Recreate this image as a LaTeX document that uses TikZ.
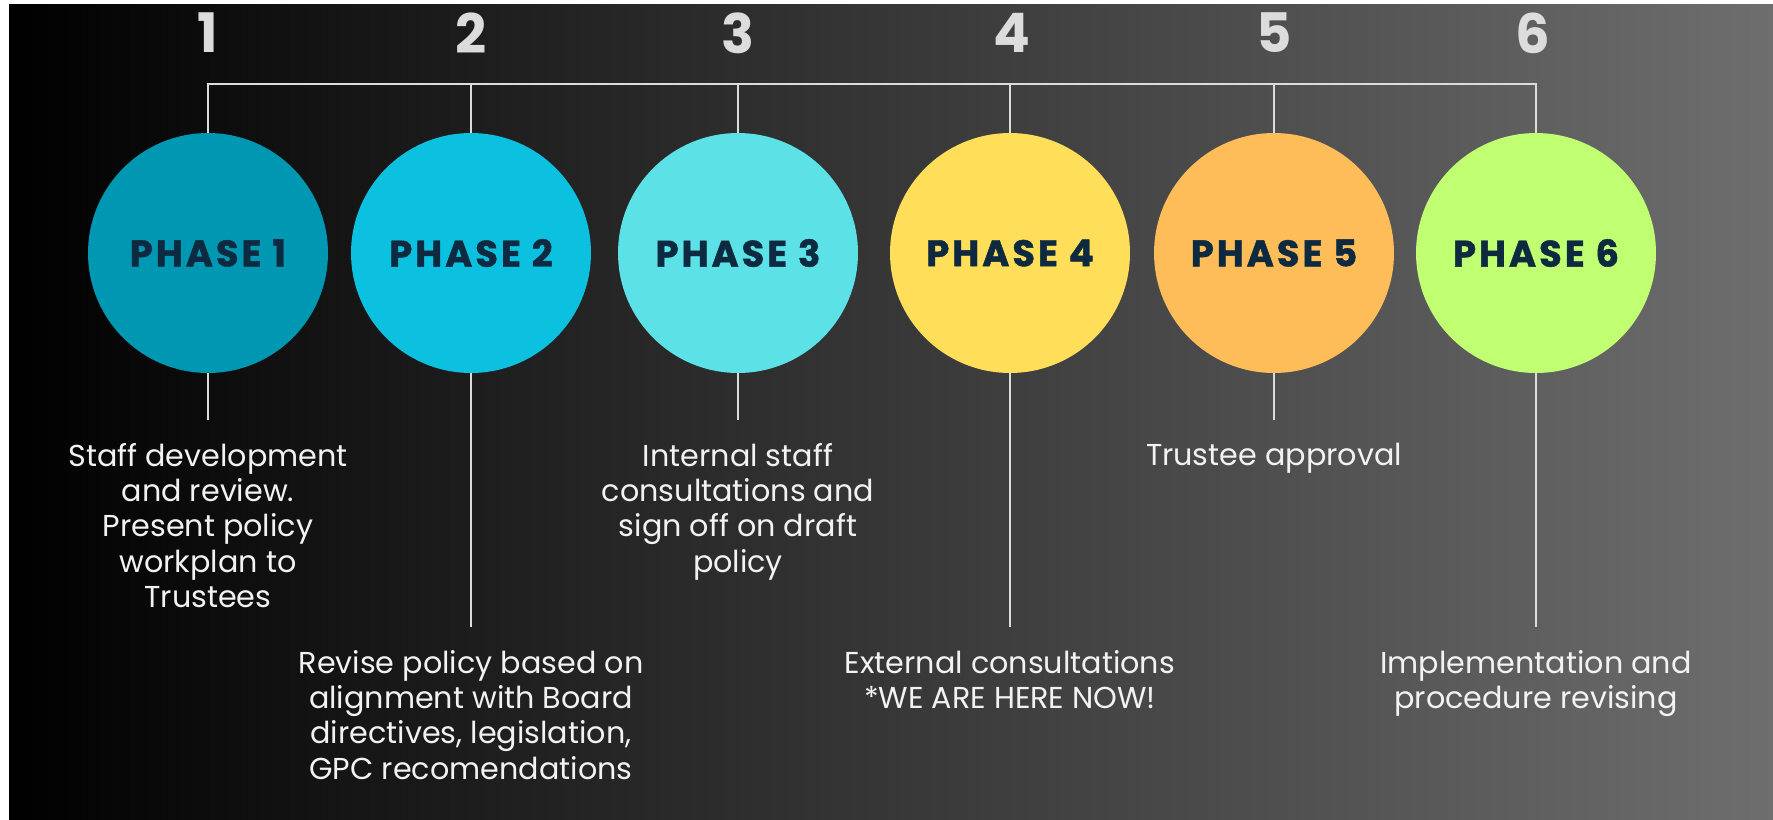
\documentclass[tikz,border=0pt]{standalone}
\usepackage{fontspec}
\setmainfont{Poppins}

\definecolor{phaseA}{HTML}{0097B2}
\definecolor{phaseB}{HTML}{0CC0DF}
\definecolor{phaseC}{HTML}{5CE1E6}
\definecolor{phaseD}{HTML}{FFDE59}
\definecolor{phaseE}{HTML}{FFBD59}
\definecolor{phaseF}{HTML}{C1FF72}
\definecolor{phasetext}{HTML}{0E2A40}
\definecolor{linegray}{HTML}{DCDCDC}
\definecolor{notewhite}{HTML}{F2F2F2}
\definecolor{bggray}{HTML}{6E6E6E}

\begin{document}
\begin{tikzpicture}[x=0.02cm,y=-0.02cm]
\tikzset{
  PhaseStyle/.style = {circle, minimum size=4.8cm, inner sep=0pt,
                       font=\fontsize{21}{23}\selectfont\bfseries\addfontfeatures{LetterSpace=8,FakeBold=1.2},
                       text=phasetext},
  NumStyle/.style = {font=\fontsize{31}{31}\selectfont\bfseries,
                     text=linegray},
  NoteStyle/.style = {align=center, anchor=north, inner xsep=0pt,
                      inner ysep=13pt,
                      font=\fontsize{17.2}{20.1}\selectfont, text=notewhite},
  LinkStyle/.style = {draw=linegray, line width=1.5pt},
}
\useasboundingbox (0,0) rectangle (1773,819);

% backdrop
\fill[white] (0,0) rectangle (1773,819);
\shade[left color=black, right color=bggray] (9,4) rectangle (1773,819);

% the six phases
\node[PhaseStyle, fill=phaseA] (ph1) at (208,253) {PHASE 1};
\node[PhaseStyle, fill=phaseB] (ph2) at (471,253) {PHASE 2};
\node[PhaseStyle, fill=phaseC] (ph3) at (738,253) {PHASE 3};
\node[PhaseStyle, fill=phaseD] (ph4) at (1010,253) {PHASE 4};
\node[PhaseStyle, fill=phaseE] (ph5) at (1274,253) {PHASE 5};
\node[PhaseStyle, fill=phaseF] (ph6) at (1536,253) {PHASE 6};

% step numbers
\node[NumStyle] (num1) at (208,33) {1};
\node[NumStyle] (num2) at (471,33) {2};
\node[NumStyle] (num3) at (738,33) {3};
\node[NumStyle] (num4) at (1012,33) {4};
\node[NumStyle] (num5) at (1274,33) {5};
\node[NumStyle] (num6) at (1533,33) {6};

% bar on top
\coordinate (bus) at (0,84);
\draw[LinkStyle] (ph1.north) |- (bus -| ph6.north) -- (ph6.north);
\draw[LinkStyle] (ph2.north) -- (ph2.north |- bus);
\draw[LinkStyle] (ph3.north) -- (ph3.north |- bus);
\draw[LinkStyle] (ph4.north) -- (ph4.north |- bus);
\draw[LinkStyle] (ph5.north) -- (ph5.north |- bus);

% notes under the phases
\node[NoteStyle] (txt1) at (208,420) {Staff development\\and review.\\Present policy\\workplan to\\Trustees};
\node[NoteStyle] (txt2) at (471,627) {Revise policy based on\\alignment with Board\\directives, legislation,\\GPC recomendations};
\node[NoteStyle] (txt3) at (738,420) {Internal staff\\consultations and\\sign off on draft\\policy};
\node[NoteStyle] (txt4) at (1010,627) {External consultations\\*WE ARE HERE NOW!};
\node[NoteStyle] (txt5) at (1274,420) {Trustee approval};
\node[NoteStyle] (txt6) at (1536,627) {Implementation and\\procedure revising};

\draw[LinkStyle] (ph1.south) -- (txt1.north);
\draw[LinkStyle] (ph2.south) -- (txt2.north);
\draw[LinkStyle] (ph3.south) -- (txt3.north);
\draw[LinkStyle] (ph4.south) -- (txt4.north);
\draw[LinkStyle] (ph5.south) -- (txt5.north);
\draw[LinkStyle] (ph6.south) -- (txt6.north);

\end{tikzpicture}
\end{document}
